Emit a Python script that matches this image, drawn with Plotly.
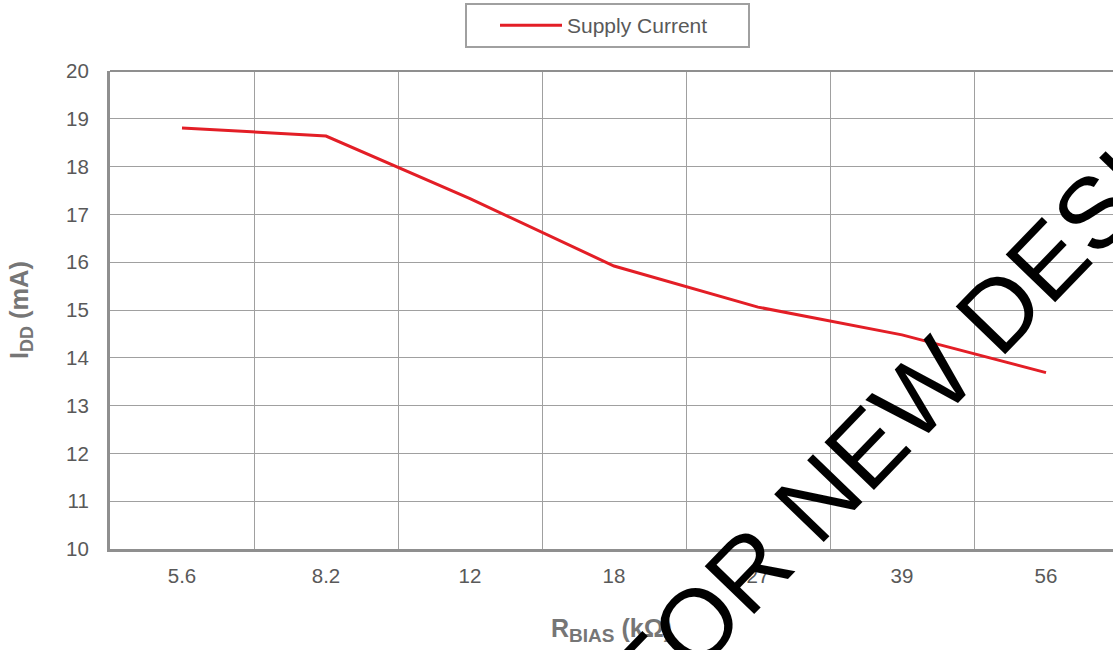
import plotly.graph_objects as go

categories = ["5.6", "8.2", "12", "18", "27", "39", "56"]
supply_current = [18.81, 18.64, 17.33, 15.92, 15.06, 14.48, 13.69]
y_ticks = [10, 11, 12, 13, 14, 15, 16, 17, 18, 19, 20]

W, H = 1113, 650
ML, MR, MT, MB = 110, 0, 71, 101
PW, PH = W - ML - MR, H - MT - MB

def px_x(p):
    return (p - ML) / PW

def px_y(p):
    return (H - MB - p) / PH

fig = go.Figure()
fig.add_trace(go.Scatter(
    x=categories, y=supply_current, mode="lines", name="Supply Current",
    line=dict(color="#e31e26", width=3),
))

font = "Arial, Liberation Sans, sans-serif"
fig.update_layout(
    width=W, height=H,
    margin=dict(l=ML, r=MR, t=MT, b=MB),
    paper_bgcolor="white", plot_bgcolor="white",
    font=dict(family=font, color="#595959"),
    showlegend=True,
    legend=dict(
        orientation="h", x=px_x(465), xanchor="left", y=px_y(3), yanchor="top",
        bordercolor="#a0a0a0", borderwidth=2, font=dict(size=21, color="#595959"),
        indentation=28, itemwidth=62, entrywidth=176,
    ),
    xaxis=dict(
        type="category", tickson="boundaries", range=[-0.5, -0.5 + PW / 144.0],
        showgrid=True, gridcolor="#a0a0a0", gridwidth=1,
        showline=True, linecolor="#8f8f8f", linewidth=3,
        ticks="", ticklabelstandoff=6, tickfont=dict(size=20.5, color="#595959"),
        title=dict(text="<b>R<sub><span style='font-size:19px'>BIAS</span></sub> (kΩ)</b>",
                   font=dict(size=25, color="#767676"), standoff=34),
    ),
    yaxis=dict(
        range=[10, 20], tickvals=y_ticks, showgrid=True, gridcolor="#a0a0a0", gridwidth=1,
        showline=True, linecolor="#8f8f8f", linewidth=3, mirror=False,
        ticks="", ticklabelstandoff=14, tickfont=dict(size=20.5, color="#595959"),
        title=dict(text="<b>I<sub>DD</sub> (mA)</b>", font=dict(size=25.5, color="#767676"), standoff=31),
        zeroline=False,
    ),
)

fig.add_shape(type="line", xref="paper", yref="paper", x0=0, x1=1, y0=1, y1=1,
              line=dict(color="#8f8f8f", width=2))

fig.add_annotation(
    text="NOT RECOMMENDED FOR NEW DESIGNS", xref="paper", yref="paper",
    x=px_x(585), y=px_y(739), xanchor="center", yanchor="middle",
    showarrow=False, textangle=-46,
    font=dict(family=font, size=100, color="black"),
)

fig.write_html("out.html", config={"displayModeBar": False},
               post_script="document.body.style.margin='0px';")
